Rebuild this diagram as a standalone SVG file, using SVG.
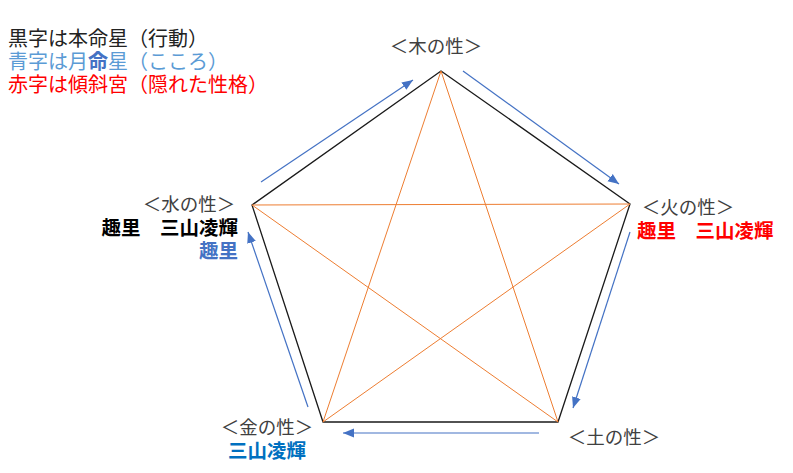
<svg xmlns="http://www.w3.org/2000/svg" width="793" height="473" viewBox="0 0 793 473">
<style>
text{font-family:"Noto Sans CJK JP","Noto Sans",sans-serif}
.leg{font-size:20px}
.lab{font-size:18.5px;fill:#404040;text-anchor:middle}
.nm{font-size:19.5px;font-weight:bold}
.edge{stroke:#1a1a1a;stroke-width:1.3;fill:none}
.star{stroke:#ED7D31;stroke-width:1;fill:none}
.arr{stroke:#4472C4;stroke-width:1.2;fill:none;marker-end:url(#ah)}
</style>
<defs>
<marker id="ah" markerUnits="userSpaceOnUse" markerWidth="12" markerHeight="12" viewBox="0 0 12 12" refX="11" refY="6" orient="auto">
<path d="M0,1.5 L11,6 L0,10.5 Z" fill="#4472C4"/>
</marker>
</defs>
<rect width="793" height="473" fill="#fff"/>
<g id="legend">
<text class="leg" x="8" y="46" fill="#222">黒字は本命星（行動）</text>
<text class="leg" x="8" y="69" fill="#5B9BD5">青字は月<tspan font-weight="bold" fill="#4472C4">命</tspan>星（こころ）</text>
<text class="leg" x="8" y="92" fill="#FF0000">赤字は傾斜宮（隠れた性格）</text>
</g>
<g id="connectors">
<polygon class="edge" points="441,71 630,204 558,422 323,422 252,205"/>
<line class="star" x1="441" y1="71" x2="558" y2="422"/>
<line class="star" x1="441" y1="71" x2="323" y2="422"/>
<line class="star" x1="252" y1="205" x2="630" y2="204"/>
<line class="star" x1="252" y1="205" x2="558" y2="422"/>
<line class="star" x1="630" y1="204" x2="323" y2="422"/>
<line class="arr" x1="261" y1="182" x2="413" y2="80"/>
<line class="arr" x1="463" y1="71" x2="619" y2="184"/>
<line class="arr" x1="630" y1="232" x2="573" y2="408"/>
<line class="arr" x1="539" y1="433" x2="343" y2="433"/>
<line class="arr" x1="308" y1="407" x2="248" y2="232"/>
</g>
<g id="node-wood">
<text class="lab" x="436" y="53">＜木の性＞</text>
</g>
<g id="node-fire">
<text class="lab" x="688" y="214">＜火の性＞</text>
<text class="nm" x="637" y="238" fill="#FF0000">趣里　三山凌輝</text>
</g>
<g id="node-earth">
<text class="lab" x="614" y="444">＜土の性＞</text>
</g>
<g id="node-metal">
<text class="lab" x="267" y="434">＜金の性＞</text>
<text class="nm" x="228" y="458" fill="#0070C0">三山凌輝</text>
</g>
<g id="node-water">
<text class="lab" x="189" y="211">＜水の性＞</text>
<text class="nm" x="238" y="235" fill="#000" text-anchor="end">趣里　三山凌輝</text>
<text class="nm" x="238" y="258" fill="#4472C4" text-anchor="end">趣里</text>
</g>
</svg>
